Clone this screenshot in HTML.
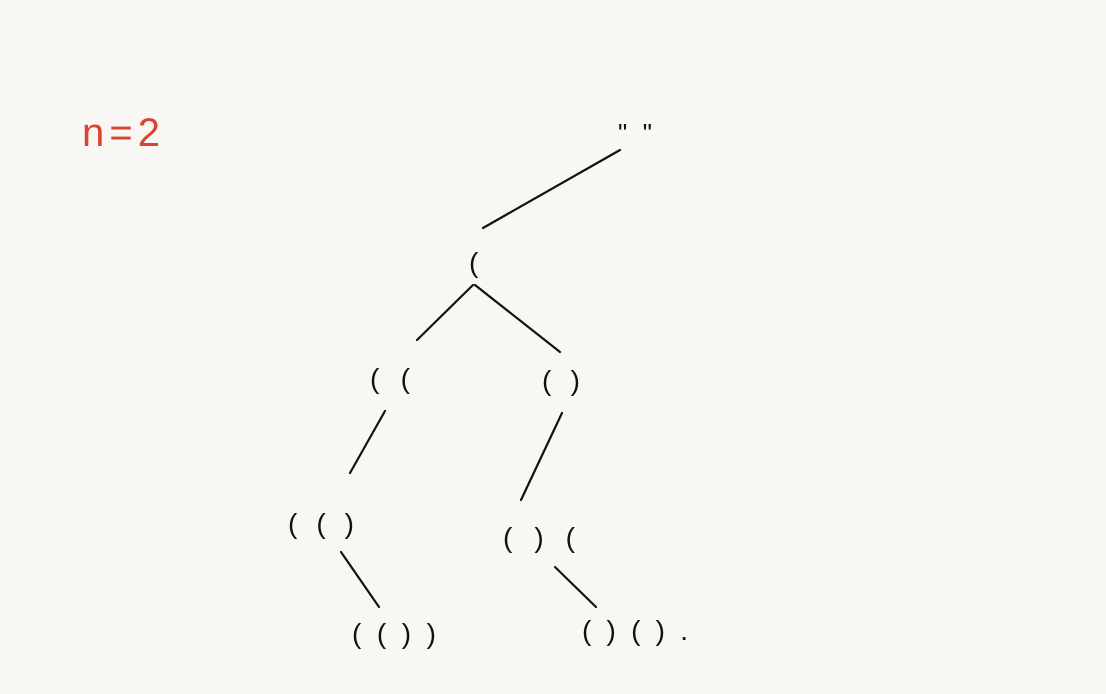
<!DOCTYPE html>
<html>
<head>
<meta charset="utf-8">
<style>
  html,body{margin:0;padding:0;background:#f8f7f3;}
  svg{display:block;}
  text{font-family:"Liberation Sans",sans-serif;}
</style>
</head>
<body>
<svg width="1106" height="694" viewBox="0 0 1106 694">
  <rect x="0" y="0" width="1106" height="694" fill="#f8f7f3"/>
  <text x="82" y="146" font-size="40" fill="#d9432f" textLength="78" lengthAdjust="spacing">n=2</text>
  <g stroke="#111" stroke-width="2.2" stroke-linecap="round">
    <line x1="620" y1="150" x2="483" y2="228"/>
    <line x1="473" y1="285" x2="417" y2="340"/>
    <line x1="475" y1="285" x2="560" y2="352"/>
    <line x1="385" y1="411" x2="350" y2="473"/>
    <line x1="562" y1="413" x2="521" y2="500"/>
    <line x1="341" y1="552" x2="379" y2="607"/>
    <line x1="555" y1="567" x2="596" y2="607"/>
  </g>
  <g fill="#111" font-size="28">
    <text x="618" y="142" font-size="26" textLength="34" lengthAdjust="spacing">" "</text>
    <text x="469" y="272">(</text>
    <text x="370" y="388" textLength="40" lengthAdjust="spacing">((</text>
    <text x="542" y="390" textLength="38" lengthAdjust="spacing">()</text>
    <text x="288" y="533" textLength="66" lengthAdjust="spacing">(()</text>
    <text x="503" y="547" textLength="72" lengthAdjust="spacing">()(</text>
    <text x="352" y="643" textLength="84" lengthAdjust="spacing">(())</text>
    <text x="582" y="640" textLength="106" lengthAdjust="spacing">()().</text>
  </g>
</svg>
</body>
</html>
